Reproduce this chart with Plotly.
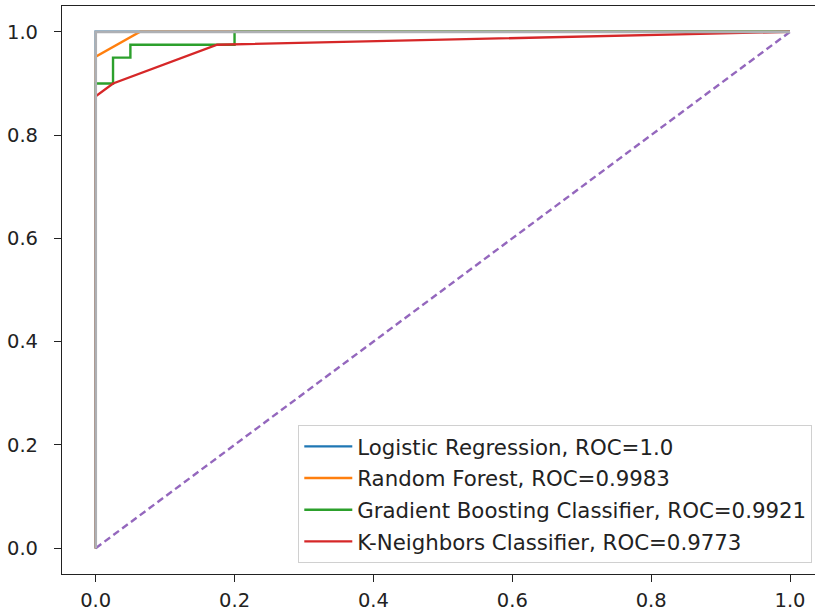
import plotly.graph_objects as go

# ---- data ----
lr_fpr = [0.0, 0.0, 1.0]
lr_tpr = [0.0, 1.0, 1.0]

rf_fpr = [0.0, 0.0, 0.064, 1.0]
rf_tpr = [0.0, 0.952, 1.0, 1.0]

gb_fpr = [0.0, 0.0, 0.025, 0.025, 0.05, 0.05, 0.2, 0.2, 1.0]
gb_tpr = [0.0, 0.9, 0.9, 0.95, 0.95, 0.975, 0.975, 1.0, 1.0]

knn_fpr = [0.0, 0.0, 0.025, 0.075, 0.175, 1.0]
knn_tpr = [0.0, 0.875, 0.9, 0.925, 0.975, 1.0]

diag_x = [0.0, 1.0]
diag_y = [0.0, 1.0]

perfect_fpr = [0.0, 0.0, 1.0]
perfect_tpr = [0.0, 1.0, 1.0]

labels = [
    "Logistic Regression, ROC=1.0",
    "Random Forest, ROC=0.9983",
    "Gradient Boosting Classifier, ROC=0.9921",
    "K-Neighbors Classifier, ROC=0.9773",
]
colors = ["#1f77b4", "#ff7f0e", "#2ca02c", "#d62728"]

tick_vals = [0.0, 0.2, 0.4, 0.6, 0.8, 1.0]
tick_text = ["0.0", "0.2", "0.4", "0.6", "0.8", "1.0"]

FONT = "DejaVu Sans"
TICK_FS = 19.5
LEG_FS = 21.3
LW = 2.4

fig = go.Figure()
series = [(lr_fpr, lr_tpr), (rf_fpr, rf_tpr), (gb_fpr, gb_tpr), (knn_fpr, knn_tpr)]
for (xs, ys), name, col in zip(series, labels, colors):
    fig.add_trace(go.Scatter(x=xs, y=ys, mode="lines", name=name,
                             line=dict(color=col, width=LW),
                             legendgroup=name))

fig.add_trace(go.Scatter(x=diag_x, y=diag_y, mode="lines", showlegend=False,
                         line=dict(color="#9467bd", width=LW, dash="7px,4px")))
fig.add_trace(go.Scatter(x=perfect_fpr, y=perfect_tpr, mode="lines", showlegend=False,
                         line=dict(color="#aeb0b4", width=LW + 0.4)))

axis_common = dict(
    showgrid=False, zeroline=False, showline=True, linecolor="#222222", linewidth=1.2,
    ticks="outside", ticklen=7, tickwidth=1.2, tickcolor="#222222",
    tickvals=tick_vals, ticktext=tick_text,
    tickfont=dict(family=FONT, size=TICK_FS, color="#222222"),
    automargin=False,
)

fig.update_layout(
    width=815, height=611,
    margin=dict(l=62, r=0, t=6, b=37),
    paper_bgcolor="white", plot_bgcolor="white",
    font=dict(family=FONT, size=TICK_FS, color="#222222"),
    xaxis=dict(range=[-0.0485, 1.036], mirror=True, ticklabelstandoff=1, **axis_common),
    yaxis=dict(range=[-0.05, 1.05], mirror=False, ticklabelstandoff=12, **axis_common),
    legend=dict(
        x=0.9964, y=0.0194, xanchor="right", yanchor="bottom",
        bgcolor="rgba(255,255,255,0.85)", bordercolor="#d0d0d0", borderwidth=1,
        font=dict(family=FONT, size=LEG_FS, color="#222222"),
        tracegroupgap=1, itemwidth=48,
    ),
    showlegend=True,
)

fig.write_html("out.html", config={"displayModeBar": False},
               post_script="document.body.style.margin='0px';")
